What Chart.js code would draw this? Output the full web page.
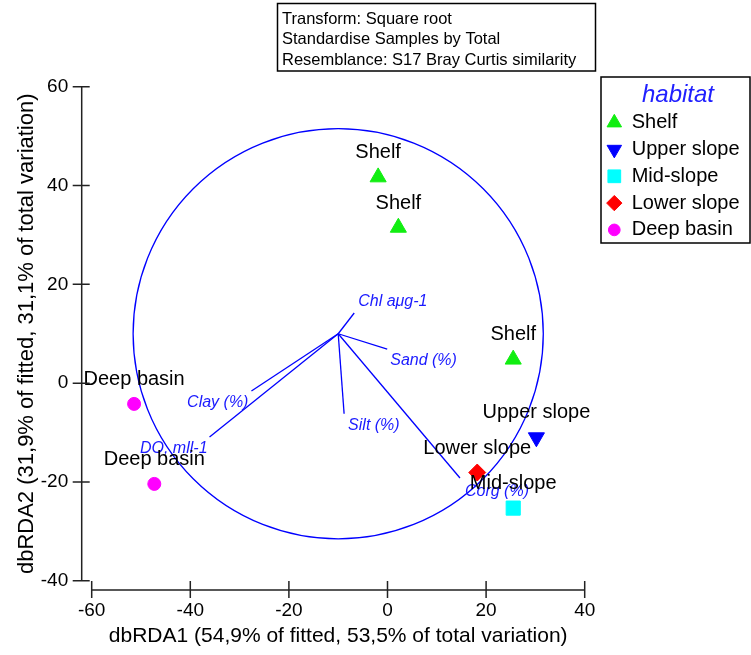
<!DOCTYPE html>
<html>
<head>
<meta charset="utf-8">
<script src="https://cdn.jsdelivr.net/npm/chart.js@4.4.0/dist/chart.umd.min.js"></script>
<style>
  html, body { margin: 0; padding: 0; background: #fff; }
  #wrap { width: 751px; height: 655px; }
</style>
</head>
<body>
<div id="wrap"><canvas id="rdaChart" width="751" height="655"></canvas></div>
<script>
const FONT = '"Liberation Sans", Arial, sans-serif';

// habitats (legend order) and their symbols
const habitats = ['Shelf', 'Upper slope', 'Mid-slope', 'Lower slope', 'Deep basin'];
const habitatColors = ['#11ee11', '#0000ff', '#00ffff', '#ff0000', '#ff00ff'];
const habitatMarkers = ['triangle', 'triangle', 'rect', 'rectRot', 'circle'];
const habitatRotation = [0, 180, 0, 0, 0];
const habitatRadius = [9.3, 9.3, 10, 8.5, 6.5];

// sample scores on dbRDA1 / dbRDA2
const sampleHabitat = ['Shelf', 'Shelf', 'Shelf', 'Upper slope', 'Mid-slope', 'Lower slope', 'Deep basin', 'Deep basin'];
const rda1 = [-1.9, 2.2, 25.5, 30.2, 25.5, 18.2, -51.4, -47.3];
const rda2 = [41.7, 31.5, 4.8, -11.0, -25.3, -18.1, -4.2, -20.4];

// environmental vectors (drawn from a common origin) and the unit circle
const vectorNames = ['Chl a\u03bcg-1', 'Sand (%)', 'Silt (%)', 'Clay (%)', 'DO, mll-1', 'Corg (%)'];
const vectorEndX = [-6.75, -0.06, -8.8, -27.6, -36.1, 14.7];
const vectorEndY = [14.2, 6.9, -6.2, -1.6, -10.9, -19.2];
const vectorOrigin = [-10, 10];
const circleRadius = 41.6;

// axes
const xTicks = [-60, -40, -20, 0, 20, 40];
const yTicks = [-40, -20, 0, 20, 40, 60];
const xTitle = 'dbRDA1 (54,9% of fitted, 53,5% of total variation)';
const yTitle = 'dbRDA2 (31,9% of fitted, 31,1% of total variation)';

const infoLines = ['Transform: Square root', 'Standardise Samples by Total', 'Resemblance: S17 Bray Curtis similarity'];

// label placement for the vector names: [dx, dy, align]
const vectorLabelPos = [[4, -11, 'left'], [3, 11, 'left'], [4, 12, 'left'], [-3, 12, 'right'], [-2, 12, 'right'], [5, 14, 'left']];

const datasets = [];

vectorNames.forEach((name, i) => {
  datasets.push({
    label: name,
    data: [{ x: vectorOrigin[0], y: vectorOrigin[1] }, { x: vectorEndX[i], y: vectorEndY[i] }],
    showLine: true,
    borderColor: '#0000ff',
    borderWidth: 1.3,
    pointRadius: 0,
    pointHoverRadius: 0
  });
});

habitats.forEach((h, k) => {
  const pts = [];
  sampleHabitat.forEach((s, i) => {
    if (s === h) pts.push({ x: rda1[i], y: rda2[i] });
  });
  datasets.push({
    label: h,
    data: pts,
    pointStyle: habitatMarkers[k],
    rotation: habitatRotation[k],
    pointRadius: habitatRadius[k],
    pointHoverRadius: habitatRadius[k],
    backgroundColor: habitatColors[k],
    borderColor: habitatColors[k],
    borderWidth: 1
  });
});

const corrCircle = {
  id: 'corrCircle',
  beforeDatasetsDraw(chart) {
    const { ctx, scales: { x, y } } = chart;
    const cx = x.getPixelForValue(vectorOrigin[0]);
    const cy = y.getPixelForValue(vectorOrigin[1]);
    const r = x.getPixelForValue(vectorOrigin[0] + circleRadius) - cx;
    ctx.save();
    ctx.strokeStyle = '#0000ff';
    ctx.lineWidth = 1.3;
    ctx.beginPath();
    ctx.arc(cx, cy, r, 0, Math.PI * 2);
    ctx.stroke();
    ctx.restore();
  }
};

const detachedAxes = {
  id: 'detachedAxes',
  afterDraw(chart) {
    const { ctx, chartArea, scales: { x, y } } = chart;
    const axisX = chartArea.left - 10;
    const axisY = chartArea.bottom + 9.3;
    ctx.save();
    ctx.strokeStyle = '#222';
    ctx.lineWidth = 1.5;
    ctx.beginPath();
    ctx.moveTo(axisX, y.getPixelForValue(y.max));
    ctx.lineTo(axisX, y.getPixelForValue(y.min));
    yTicks.forEach(v => {
      const py = y.getPixelForValue(v);
      ctx.moveTo(axisX - 9, py);
      ctx.lineTo(axisX + 8, py);
    });
    ctx.moveTo(x.getPixelForValue(x.min), axisY);
    ctx.lineTo(x.getPixelForValue(x.max), axisY);
    xTicks.forEach(v => {
      const px = x.getPixelForValue(v);
      ctx.moveTo(px, axisY - 9);
      ctx.lineTo(px, axisY + 8);
    });
    ctx.stroke();
    ctx.restore();
  }
};

const labelsPlugin = {
  id: 'labelsPlugin',
  afterDatasetsDraw(chart) {
    const { ctx, scales: { x, y } } = chart;
    ctx.save();
    // vector names
    ctx.font = 'italic 16px ' + FONT;
    ctx.fillStyle = '#1a1aff';
    ctx.textBaseline = 'middle';
    vectorNames.forEach((name, i) => {
      const p = vectorLabelPos[i];
      ctx.textAlign = p[2];
      ctx.fillText(name, x.getPixelForValue(vectorEndX[i]) + p[0], y.getPixelForValue(vectorEndY[i]) + p[1]);
    });
    // sample names
    ctx.font = '20px ' + FONT;
    ctx.fillStyle = '#000';
    ctx.textAlign = 'center';
    ctx.textBaseline = 'alphabetic';
    sampleHabitat.forEach((h, i) => {
      ctx.fillText(h, x.getPixelForValue(rda1[i]), y.getPixelForValue(rda2[i]) - 19);
    });
    ctx.restore();
  }
};

const boxesPlugin = {
  id: 'boxesPlugin',
  afterDraw(chart) {
    const { ctx } = chart;
    ctx.save();
    ctx.strokeStyle = '#000';
    ctx.lineWidth = 1.5;

    // info box
    ctx.strokeRect(277.5, 3.5, 318, 67.5);
    ctx.fillStyle = '#000';
    ctx.font = '16.5px ' + FONT;
    ctx.textAlign = 'left';
    ctx.textBaseline = 'alphabetic';
    infoLines.forEach((t, i) => ctx.fillText(t, 282, 23.5 + i * 20.5));

    // legend
    ctx.strokeRect(601, 77, 149, 166);
    ctx.font = 'italic 24px ' + FONT;
    ctx.fillStyle = '#2020ff';
    ctx.textAlign = 'center';
    ctx.textBaseline = 'middle';
    ctx.fillText('habitat', 678, 95);
    ctx.font = '20px ' + FONT;
    ctx.textAlign = 'left';
    habitats.forEach((h, k) => {
      const ly = 122.7 + k * 26.8;
      ctx.fillStyle = habitatColors[k];
      ctx.strokeStyle = habitatColors[k];
      ctx.lineWidth = 1;
      Chart.helpers.drawPoint(ctx, {
        pointStyle: habitatMarkers[k],
        rotation: habitatRotation[k],
        radius: habitatRadius[k] * 0.9,
        borderWidth: 1
      }, 614.3, ly);
      ctx.fillStyle = '#000';
      ctx.fillText(h, 631.7, ly);
    });
    ctx.restore();
  }
};

new Chart(document.getElementById('rdaChart'), {
  type: 'scatter',
  data: { datasets: datasets },
  options: {
    responsive: false,
    animation: false,
    events: [],
    layout: { padding: { top: 86.8, right: 166.3, bottom: 0, left: 0 } },
    plugins: { legend: { display: false }, tooltip: { enabled: false } },
    scales: {
      x: {
        type: 'linear',
        min: -60,
        max: 40,
        afterBuildTicks: s => { s.ticks = xTicks.map(v => ({ value: v })); },
        ticks: { color: '#000', font: { family: FONT, size: 19 }, padding: 19 },
        grid: { display: false, drawTicks: false },
        border: { display: false },
        title: { display: true, text: xTitle, color: '#000', font: { family: FONT, size: 21 }, padding: { top: 0, bottom: 6.4 } },
        afterFit: s => { s.height = 74.3; }
      },
      y: {
        type: 'linear',
        min: -40,
        max: 60,
        afterBuildTicks: s => { s.ticks = yTicks.map(v => ({ value: v })); },
        ticks: { color: '#000', font: { family: FONT, size: 19 }, padding: 23.5 },
        grid: { display: false, drawTicks: false },
        border: { display: false },
        title: { display: true, text: yTitle, color: '#000', font: { family: FONT, size: 22 }, padding: { top: 14, bottom: 0 } },
        afterFit: s => { s.width = 91.7; }
      }
    }
  },
  plugins: [corrCircle, labelsPlugin, detachedAxes, boxesPlugin]
});
</script>
</body>
</html>
